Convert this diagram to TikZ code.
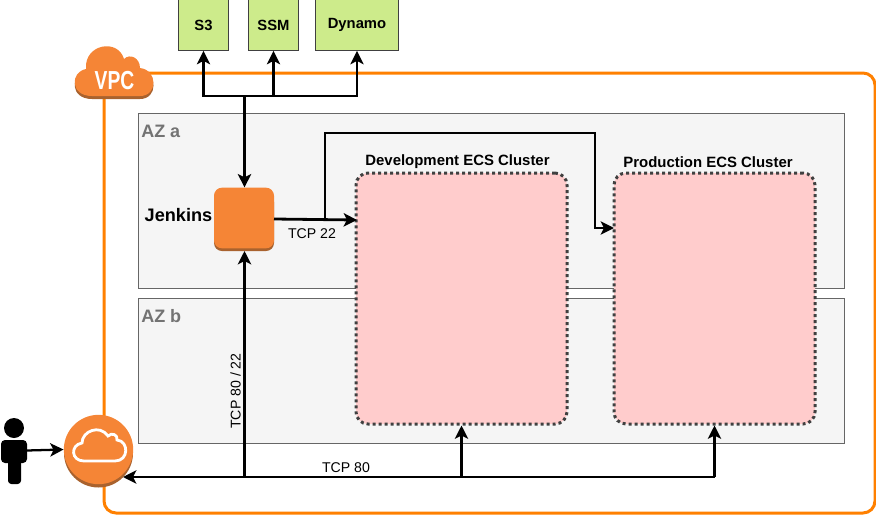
\documentclass[tikz,border=0pt]{standalone}
\usepackage{fontspec}
\setmainfont{Liberation Sans}
\usetikzlibrary{arrows.meta,positioning}
\definecolor{awsor}{HTML}{F58536}
\definecolor{awsdk}{HTML}{A9622E}
\definecolor{vpcline}{HTML}{FF8000}
\definecolor{svcgreen}{HTML}{CDEB8B}
\tikzset{
 zone/.style={draw=black!60,fill=black!4,line width=.6pt},
 cluster/.style={draw=black!75,fill=red!20,line width=2.25pt,dash pattern=on 2.25pt off 2.25pt,rounded corners=9pt},
 svc/.style={draw=black!75,fill=svcgreen,line width=.9pt,font=\bfseries\fontsize{11.1}{13}\selectfont},
 conn/.style={line width=2.1pt,line cap=butt},
 arr/.style={conn,-{Stealth[length=10pt,width=10pt,inset=2.5pt]}},
 thin arr/.style={arr,line width=1.7pt},
 lbl/.style={font=\fontsize{10.6}{12}\selectfont,inner sep=0pt},
 title/.style={font=\bfseries\fontsize{11.2}{13}\selectfont,inner sep=0pt},
 azl/.style={font=\bfseries\fontsize{13.5}{15}\selectfont,text=black!55,inner sep=0pt},
}
\begin{document}
\begin{tikzpicture}[x=0.75pt,y=-0.75pt]
\useasboundingbox (0,0) rectangle (876,515);
% frame
\draw[vpcline,line width=2.25pt,rounded corners=9pt] (104,73) rectangle (875,513);
% zones
\node[zone,minimum width=529.5pt,minimum height=131.25pt,inner sep=0pt] (aza) at (491,200.5) {};
\node[zone,minimum width=529.5pt,minimum height=108.75pt,inner sep=0pt] (azb) at (491,370.5) {};
\node[azl,anchor=west] (azal) at (141,131) {AZ a};
\node[azl,anchor=west] (azbl) at (141,316) {AZ b};
% clusters
\node[cluster,inner sep=0pt,minimum width=158.25pt,minimum height=188.25pt] (dev) at (461.5,298.5) {};
\node[cluster,inner sep=0pt,minimum width=150.75pt,minimum height=188.25pt] (prod) at (714.5,298.5) {};
\node[title] (devl) at (457.5,161.8) {Development ECS Cluster};
\node[title] (prodl) at (708,161.8) {Production ECS Cluster};
% services
\node[svc,inner sep=0pt,minimum width=37.5pt,minimum height=38pt] (s3) at (203.5,25) {\raisebox{-.6pt}{S3}};
\node[svc,inner sep=0pt,minimum width=37.5pt,minimum height=38pt] (ssm) at (273.5,25) {\raisebox{-.6pt}{SSM}};
\node[svc,inner sep=0pt,minimum width=62.25pt,minimum height=38pt] (dyn) at (357,25) {\raisebox{-.6pt}{Dynamo}};
% jenkins
\fill[awsdk,rounded corners=6pt] (214,194) rectangle (274,251);
\node[fill=awsor,rounded corners=6pt,inner sep=0pt,minimum width=45pt,minimum height=45.5pt] (jenk) at (244,218) {};
\node[font=\bfseries\fontsize{13.6}{15}\selectfont,inner sep=0pt,anchor=east] (jenkl) at (212.5,215) {Jenkins};
% gateway
\fill[awsdk] (98.5,453) circle[radius=34.5];
\node[circle,fill=awsor,inner sep=0pt,minimum size=52pt] (gw) at (98.5,449.5) {};
\draw[white,line width=2.1pt]
  (84,461) .. controls (71,461) and (70,445) .. (82,443) .. controls (82,431) and (100,424) .. (108,436)
  .. controls (112,432) and (118,435) .. (117,440) .. controls (129,441) and (129,461) .. (115,461) -- cycle;
% person
\fill[black] (14,428) circle[radius=10];
\fill[black,rounded corners=3pt] (1,440) rectangle (27,463);
\fill[black,rounded corners=2.5pt] (8,450) rectangle (21,484);
\coordinate (personr) at (27,450.5);
% vpc cloud
\begin{scope}[shift={(0,3)}]
\fill[awsdk] (92,96) .. controls (70,96) and (70,72) .. (86,69) .. controls (84,44) and (118,38) .. (124,59)
 .. controls (130,53) and (140,58) .. (140,68) .. controls (158,70) and (158,96) .. (140,96) -- cycle;
\end{scope}
\fill[awsor] (92,96) .. controls (70,96) and (70,72) .. (86,69) .. controls (84,44) and (118,38) .. (124,59)
 .. controls (130,53) and (140,58) .. (140,68) .. controls (158,70) and (158,96) .. (140,96) -- cycle;
\node[text=white,inner sep=0pt,font=\fontsize{17}{18}\selectfont] (vpc) at (114.5,81) {\scalebox{.85}[1.15]{\textbf{VPC}}};
% connectors
\coordinate (bus) at (244.5,96);
\draw[thin arr] (bus) -| (s3.south);
\draw[thin arr] (bus) -| (ssm.south);
\draw[thin arr] (bus) -| (dyn.south);
\draw[arr] (bus) -- (jenk.north -| bus);
\coordinate (jr) at (274,219);
\coordinate (devin) at (357,220);
\coordinate (prodin) at (614,228);
\draw[arr] (jr) -- (devin);
\coordinate (branch) at (325,219.5);
\coordinate (pa) at (325,133);
\coordinate (pb) at (595,133);
\draw[thin arr] (branch) -- (pa) -- (pb) |- (prodin);
\coordinate (lowj) at (244.5,477);
\coordinate (jbot) at (244.5,251);
\coordinate (gwin) at (123,477);
\draw[arr] (lowj) -- (jbot);
\draw[arr] (prod.south |- lowj) -- (gwin);
\draw[thin arr] (dev.south |- lowj) -- (dev.south);
\draw[thin arr] (prod.south |- lowj) -- (prod.south);
\draw[thin arr] (personr) -- (gw.west);
% labels
\node[lbl] (t22) at (312,234) {TCP 22};
\node[lbl] (t80) at (346,468) {TCP 80};
\node[lbl,rotate=90] (t8022) at (235.5,391) {TCP 80 / 22};
\end{tikzpicture}
\end{document}
